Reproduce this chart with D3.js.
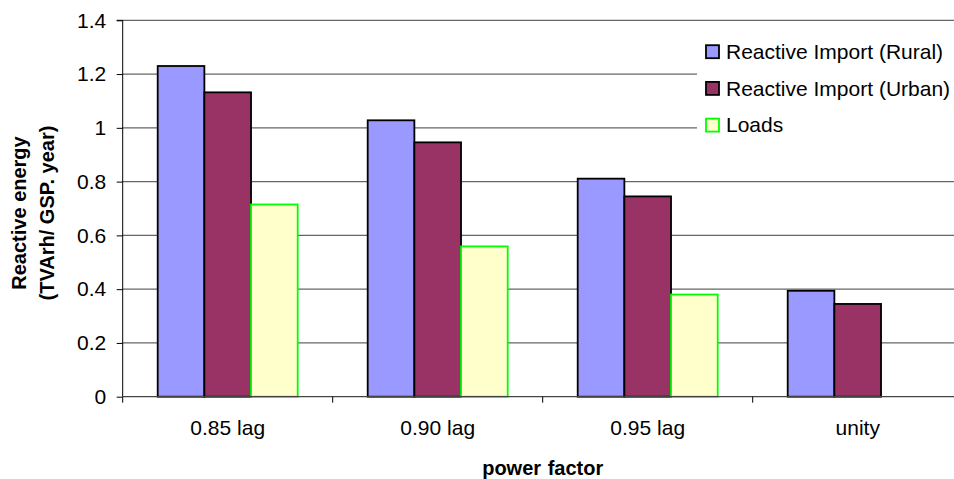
<!DOCTYPE html>
<html lang="en">
  <head>
    <meta charset="UTF-8" />
    <title>Reactive energy</title>
    <style>
      body { margin: 0; background: #fff; }
      svg { display: block; font-family: "Liberation Sans", Arial, sans-serif; }
    </style>
  </head>
  <body>
    <svg id="container" width="954" height="479">
      <g id="grid"></g>
      <g id="bars"></g>
      <g id="yAxis"></g>
      <g id="xAxis"></g>
      <g id="legend"></g>
    </svg>
  </body>
  <script src="https://cdn.jsdelivr.net/npm/d3@7"></script>
  <script>
    // chart data
    let categories = ["0.85 lag", "0.90 lag", "0.95 lag", "unity"];
    let seriesNames = ["Reactive Import (Rural)", "Reactive Import (Urban)", "Loads"];
    let rural = [1.23, 1.028, 0.811, 0.394];
    let urban = [1.132, 0.946, 0.745, 0.345];
    let loads = [0.715, 0.559, 0.38, null];
    let yTicks = [0, 0.2, 0.4, 0.6, 0.8, 1, 1.2, 1.4];

    let fills = ["#9999FF", "#993366", "#FFFFCC"];
    let strokes = ["#000", "#000", "#00FF00"];
    let values = [rural, urban, loads];

    let svg = d3.select("#container");
    let plotLeft = 122.7, plotBottom = 396.7, plotTop = 20.3;

    // scales
    let x = d3.scaleBand().domain(categories).range([plotLeft, plotLeft + 840]);
    let xInner = d3.scaleBand().domain(seriesNames).range([0, x.bandwidth()]).paddingOuter(0.75);
    let y = d3.scaleLinear().domain([0, 1.4]).range([plotBottom, plotTop]);

    // gridlines
    d3.select("#grid")
      .selectAll("line")
      .data(yTicks.slice(1))
      .enter()
      .append("line")
      .attr("x1", plotLeft)
      .attr("x2", 954)
      .attr("y1", (d) => y(d))
      .attr("y2", (d) => y(d))
      .style("stroke", "#666")
      .style("stroke-width", 1.2);

    // bars, one row per series
    let rows = [];
    seriesNames.forEach((s, i) => {
      categories.forEach((c, j) => {
        if (values[i][j] != null) rows.push({ s: s, i: i, c: c, v: values[i][j] });
      });
    });
    d3.select("#bars")
      .selectAll("rect")
      .data(rows)
      .enter()
      .append("rect")
      .attr("x", (d) => x(d.c) + xInner(d.s))
      .attr("width", xInner.bandwidth())
      .attr("y", (d) => y(d.v))
      .attr("height", (d) => y(0) - y(d.v))
      .style("fill", (d) => fills[d.i])
      .style("stroke", (d) => strokes[d.i])
      .style("stroke-width", 1.8);

    // y axis
    let yAxis = d3.axisLeft(y).tickValues(yTicks).tickFormat((d) => String(d)).tickSize(6).tickPadding(10.5);
    d3.select("#yAxis").attr("transform", `translate(${plotLeft},0)`).call(yAxis);
    d3.select("#yAxis").select(".domain").attr("d", `M-6,${plotTop}H0V${plotBottom}`).style("stroke", "#000");
    d3.select("#yAxis").selectAll(".tick line").style("stroke", "#000");
    d3.select("#yAxis").selectAll("text").style("font-size", "21px").style("fill", "#000");

    // x axis, labels centred, ticks on category boundaries
    let xAxis = d3.axisBottom(x).tickSize(0).tickPadding(23.5);
    d3.select("#xAxis").attr("transform", `translate(0,${plotBottom})`).call(xAxis);
    d3.select("#xAxis").select(".domain").attr("d", `M${plotLeft},0H954`).style("stroke", "#444").style("stroke-width", 1.2);
    d3.select("#xAxis").selectAll("text").style("font-size", "21px").style("fill", "#000");
    d3.select("#xAxis")
      .selectAll(".bound")
      .data(categories)
      .enter()
      .append("line")
      .attr("class", "bound")
      .attr("x1", (d) => x(d))
      .attr("x2", (d) => x(d))
      .attr("y1", 0)
      .attr("y2", 6)
      .style("stroke", "#000");

    // axis titles
    let yTitle = svg.append("text")
      .attr("transform", "translate(0,213) rotate(-90)")
      .attr("text-anchor", "middle")
      .style("font-size", "20px")
      .style("font-weight", "bold");
    yTitle.append("tspan").attr("x", 0).attr("y", 26).text("Reactive energy");
    yTitle.append("tspan").attr("x", 0).attr("y", 54).text("(TVArh/ GSP. year)");

    svg.append("text")
      .attr("x", 542.7)
      .attr("y", 475)
      .attr("text-anchor", "middle")
      .style("font-size", "20px")
      .style("font-weight", "bold")
      .style("word-spacing", "1px")
      .text("power factor");

    // legend
    let legend = d3.select("#legend");
    legend.append("rect").attr("x", 697).attr("y", 32).attr("width", 257).attr("height", 114).style("fill", "#fff");
    let item = legend
      .selectAll(".item")
      .data(seriesNames)
      .enter()
      .append("g")
      .attr("class", "item")
      .attr("transform", (d, i) => `translate(706,${51.7 + i * 36.7})`);
    item.append("rect")
      .attr("x", 0)
      .attr("y", -6.5)
      .attr("width", 13)
      .attr("height", 13)
      .style("fill", (d, i) => fills[i])
      .style("stroke", (d, i) => strokes[i])
      .style("stroke-width", 1.8);
    item.append("text")
      .attr("x", 20)
      .attr("dy", "0.35em")
      .style("font-size", "21px")
      .text((d) => d);
  </script>
</html>
